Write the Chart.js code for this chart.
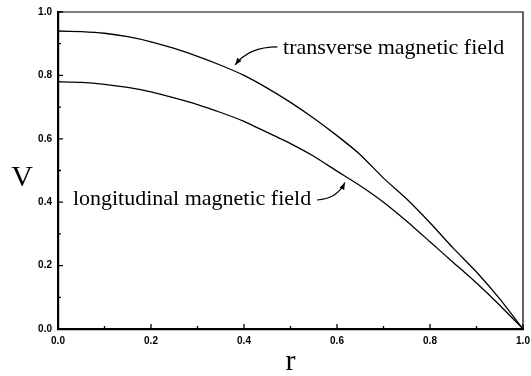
<!DOCTYPE html>
<html><head><meta charset="utf-8">
<script src="https://cdn.jsdelivr.net/npm/chart.js@4/dist/chart.umd.min.js"></script>
<style>html,body{margin:0;padding:0;background:#fff;overflow:hidden}</style>
</head><body>
<div style="width:531px;height:376px;position:relative"><canvas id="c" width="531" height="376" style="width:531px;height:376px"></canvas></div>
<script>
// ---- data ----
const rValues = [0, 0.05, 0.1, 0.15, 0.2, 0.25, 0.3, 0.35, 0.4, 0.45, 0.5, 0.55, 0.6, 0.65, 0.7, 0.75, 0.8, 0.85, 0.9, 0.95, 1.0];
const transverseField = [0.94, 0.938, 0.933, 0.922, 0.906, 0.885, 0.86, 0.832, 0.80, 0.76, 0.715, 0.665, 0.61, 0.55, 0.476, 0.41, 0.335, 0.255, 0.18, 0.095, 0.0];
const longitudinalField = [0.78, 0.778, 0.772, 0.762, 0.748, 0.729, 0.708, 0.683, 0.655, 0.62, 0.585, 0.545, 0.498, 0.452, 0.40, 0.34, 0.275, 0.21, 0.145, 0.075, 0.0];
const xTickValues = [0.0, 0.2, 0.4, 0.6, 0.8, 1.0];
const yTickValues = [0.0, 0.2, 0.4, 0.6, 0.8, 1.0];
const xMinorTicks = [0.1, 0.3, 0.5, 0.7, 0.9];
const yMinorTicks = [0.1, 0.3, 0.5, 0.7, 0.9];
const xTitle = 'r';
const yTitle = 'V';
const labelTransverse = 'transverse magnetic field';
const labelLongitudinal = 'longitudinal magnetic field';
// annotation anchors in data coordinates [r, V]
const transverseText = [0.484, 0.886];
const transverseArrowStart = [0.472, 0.89];
const transverseArrowCtrl = [0.41, 0.89];
const transverseArrowTip = [0.381, 0.833];
const longitudinalText = [0.032, 0.41];
const longitudinalArrowStart = [0.557, 0.407];
const longitudinalArrowCtrl = [0.6, 0.41];
const longitudinalArrowTip = [0.617, 0.462];

const tickFont = {family: '"Liberation Sans", Arial, sans-serif', size: 10, weight: 'bold'};

function arrow(ctx, x, y, s, c, t) {
  const p0 = [x.getPixelForValue(s[0]), y.getPixelForValue(s[1])];
  const pc = [x.getPixelForValue(c[0]), y.getPixelForValue(c[1])];
  const pt = [x.getPixelForValue(t[0]), y.getPixelForValue(t[1])];
  ctx.beginPath();
  ctx.moveTo(p0[0], p0[1]);
  ctx.quadraticCurveTo(pc[0], pc[1], pt[0], pt[1]);
  ctx.stroke();
  const ang = Math.atan2(pt[1] - pc[1], pt[0] - pc[0]);
  const L = 7, W = 2.6;
  ctx.beginPath();
  ctx.moveTo(pt[0], pt[1]);
  ctx.lineTo(pt[0] - L * Math.cos(ang) + W * Math.sin(ang), pt[1] - L * Math.sin(ang) - W * Math.cos(ang));
  ctx.lineTo(pt[0] - L * Math.cos(ang) - W * Math.sin(ang), pt[1] - L * Math.sin(ang) + W * Math.cos(ang));
  ctx.closePath();
  ctx.fill();
}

const decor = {
  id: 'decor',
  afterDraw(chart) {
    const {ctx, chartArea: a, scales: {x, y}} = chart;
    ctx.save();
    ctx.strokeStyle = '#000';
    ctx.fillStyle = '#000';
    ctx.lineWidth = 1.2;
    ctx.beginPath();
    ctx.moveTo(a.left, a.top); ctx.lineTo(a.right, a.top); ctx.lineTo(a.right, a.bottom);
    ctx.stroke();
    ctx.lineWidth = 1.3;
    ctx.beginPath();
    xTickValues.forEach(v => { const px = x.getPixelForValue(v); ctx.moveTo(px, a.bottom); ctx.lineTo(px, a.bottom - 5); });
    xMinorTicks.forEach(v => { const px = x.getPixelForValue(v); ctx.moveTo(px, a.bottom); ctx.lineTo(px, a.bottom - 3); });
    yTickValues.forEach(v => { const py = y.getPixelForValue(v); ctx.moveTo(a.left, py); ctx.lineTo(a.left + 5, py); });
    yMinorTicks.forEach(v => { const py = y.getPixelForValue(v); ctx.moveTo(a.left, py); ctx.lineTo(a.left + 3, py); });
    ctx.stroke();
    ctx.font = '30px "Liberation Serif", "Times New Roman", serif';
    ctx.textAlign = 'center'; ctx.textBaseline = 'middle';
    ctx.fillText(yTitle, 22, 178);
    ctx.fillText(xTitle, (a.left + a.right) / 2, 362);
    ctx.font = '22px "Liberation Serif", "Times New Roman", serif';
    ctx.textAlign = 'left';
    ctx.fillText(labelTransverse, x.getPixelForValue(transverseText[0]), y.getPixelForValue(transverseText[1]));
    ctx.fillText(labelLongitudinal, x.getPixelForValue(longitudinalText[0]), y.getPixelForValue(longitudinalText[1]));
    ctx.lineWidth = 1.2;
    arrow(ctx, x, y, transverseArrowStart, transverseArrowCtrl, transverseArrowTip);
    arrow(ctx, x, y, longitudinalArrowStart, longitudinalArrowCtrl, longitudinalArrowTip);
    ctx.restore();
  }
};

new Chart(document.getElementById('c'), {
  type: 'line',
  data: {
    datasets: [
      {label: labelTransverse, data: rValues.map((r, i) => ({x: r, y: transverseField[i]})),
       borderColor: '#000', borderWidth: 1.3, pointRadius: 0, tension: 0.15, fill: false},
      {label: labelLongitudinal, data: rValues.map((r, i) => ({x: r, y: longitudinalField[i]})),
       borderColor: '#000', borderWidth: 1.3, pointRadius: 0, tension: 0.15, fill: false}
    ]
  },
  options: {
    responsive: false,
    animation: false,
    devicePixelRatio: 1,
    layout: {padding: {top: 12, right: 8, left: 0, bottom: 0}},
    plugins: {legend: {display: false}, tooltip: {enabled: false}},
    scales: {
      x: {
        type: 'linear', min: 0, max: 1,
        afterBuildTicks: s => { s.ticks = xTickValues.map(v => ({value: v})); },
        afterFit: s => { s.height = 47; s.paddingLeft = 0; s.paddingRight = 0; },
        ticks: {font: tickFont, color: '#000', padding: 6, maxRotation: 0, callback: v => v.toFixed(1)},
        grid: {display: false, drawTicks: false},
        border: {display: true, color: '#000', width: 2.2}
      },
      y: {
        type: 'linear', min: 0, max: 1,
        afterBuildTicks: s => { s.ticks = yTickValues.map(v => ({value: v})); },
        afterFit: s => { s.width = 58; },
        ticks: {font: tickFont, color: '#000', padding: 6, callback: v => v.toFixed(1)},
        grid: {display: false, drawTicks: false},
        border: {display: true, color: '#000', width: 2.2}
      }
    }
  },
  plugins: [decor]
});
</script>
</body></html>
